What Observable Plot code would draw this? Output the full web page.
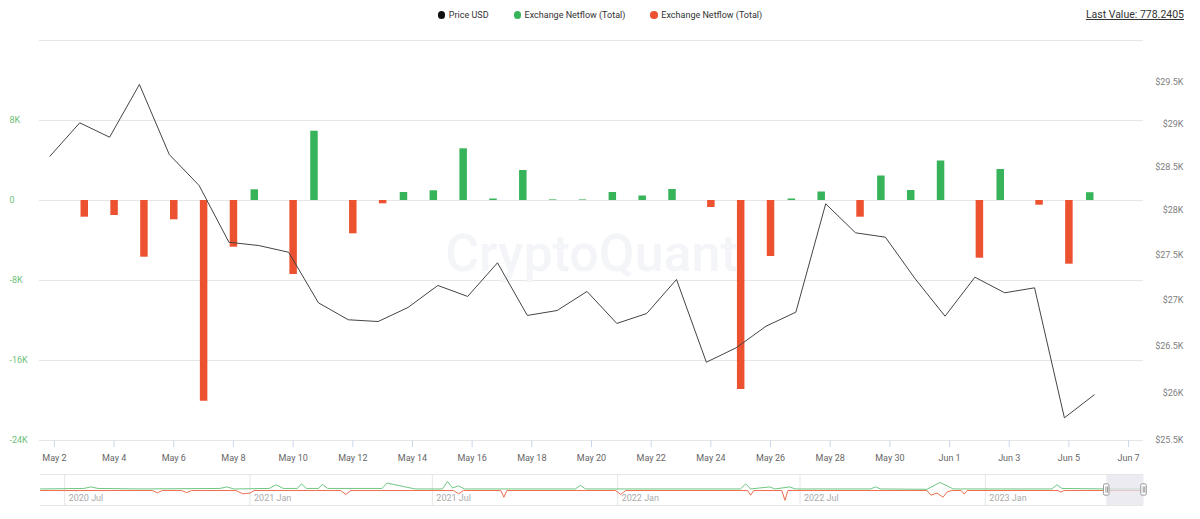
<!DOCTYPE html>
<html>
<head>
<meta charset="utf-8">
<script src="https://cdn.jsdelivr.net/npm/d3@7"></script>
<script src="https://cdn.jsdelivr.net/npm/@observablehq/plot@0.6"></script>
<style>
  body { margin: 0; background: #fff; font-family: Roboto, sans-serif; }
  #wrap { position: relative; width: 1200px; height: 519px; overflow: hidden; }
  #legend { position: absolute; top: 0; left: 0; width: 1200px; height: 30px; display: flex; justify-content: center; align-items: center; gap: 25px; font-size: 9px; color: #333; }
  .item { display: flex; align-items: center; gap: 3.5px; }
  .dot { width: 7.5px; height: 7.5px; border-radius: 50%; display: inline-block; }
  #last { position: absolute; top: 8px; right: 16px; font-size: 10.5px; color: #333; text-decoration: underline; }
  #main { position: absolute; top: 30px; left: 0; }
  #nav { position: absolute; top: 470px; left: 0; }
</style>
</head>
<body>
<div id="wrap">
  <div id="legend"></div>
  <div id="last"></div>
  <div id="main"></div>
  <div id="nav"></div>
</div>
<script>
// ---- Data ----
const seriesNames = ["Price USD", "Exchange Netflow (Total)", "Exchange Netflow (Total)"];
const seriesColors = ["#111111", "#37b35a", "#ec5230"];
const lastValueText = "Last Value: 778.2405";

const priceDates = ["2023-05-02","2023-05-03","2023-05-04","2023-05-05","2023-05-06","2023-05-07","2023-05-08","2023-05-09","2023-05-10","2023-05-11","2023-05-12","2023-05-13","2023-05-14","2023-05-15","2023-05-16","2023-05-17","2023-05-18","2023-05-19","2023-05-20","2023-05-21","2023-05-22","2023-05-23","2023-05-24","2023-05-25","2023-05-26","2023-05-27","2023-05-28","2023-05-29","2023-05-30","2023-05-31","2023-06-01","2023-06-02","2023-06-03","2023-06-04","2023-06-05","2023-06-06"];
const priceUSD = [28622,29013,28844,29469,28642,28284,27639,27602,27527,26967,26782,26763,26916,27158,27037,27409,26829,26883,27092,26742,26850,27224,26324,26479,26712,26865,28074,27745,27696,27231,26821,27249,27077,27132,25736,25978];

const netflowDates = ["2023-05-03","2023-05-04","2023-05-05","2023-05-06","2023-05-07","2023-05-08","2023-05-09","2023-05-10","2023-05-11","2023-05-12","2023-05-13","2023-05-14","2023-05-15","2023-05-16","2023-05-17","2023-05-18","2023-05-19","2023-05-20","2023-05-21","2023-05-22","2023-05-23","2023-05-24","2023-05-25","2023-05-26","2023-05-27","2023-05-28","2023-05-29","2023-05-30","2023-05-31","2023-06-01","2023-06-02","2023-06-03","2023-06-04","2023-06-05","2023-06-06"];
const netflowValues = [-1670,-1500,-5670,-1930,-20070,-4670,1070,-7400,6930,-3330,-330,800,970,5170,150,3000,60,60,800,450,1100,-700,-18900,-5600,150,850,-1670,2450,1000,3950,-5770,3100,-470,-6370,778.2405];

const xTickDates = ["2023-05-02","2023-05-04","2023-05-06","2023-05-08","2023-05-10","2023-05-12","2023-05-14","2023-05-16","2023-05-18","2023-05-20","2023-05-22","2023-05-24","2023-05-26","2023-05-28","2023-05-30","2023-06-01","2023-06-03","2023-06-05","2023-06-07"];
const gridTicks = [-24000,-16000,-8000,0,8000,16000];
const leftTicks = [-24000,-16000,-8000,0,8000];
const leftLabels = ["-24K","-16K","-8K","0","8K"];
const priceTicks = [25500,26000,26500,27000,27500,28000,28500,29000,29500];
const priceLabels = ["$25.5K","$26K","$26.5K","$27K","$27.5K","$28K","$28.5K","$29K","$29.5K"];
const watermark = "CryptoQuant";

// Navigator (overview of full history), values in thousands
const navTickDates = ["2020-07-01","2021-01-01","2021-07-01","2022-01-01","2022-07-01","2023-01-01"];
const navGreen = [["2020-06-07",1],["2020-07-20",1.5],["2020-07-27",3],["2020-08-03",1.5],["2020-09-15",1],["2020-12-02",1.5],["2020-12-09",3],["2020-12-16",1],["2021-01-20",1.5],["2021-01-27",5],["2021-02-03",1.5],["2021-02-17",1.5],["2021-02-21",6],["2021-02-26",1.5],["2021-03-10",1.5],["2021-03-14",5.5],["2021-03-19",1.5],["2021-05-12",1.5],["2021-05-17",6.7],["2021-06-09",2],["2021-06-14",1],["2021-07-11",1],["2021-07-16",8.3],["2021-07-21",2],["2021-07-27",4],["2021-08-02",1],["2021-11-20",1],["2021-11-25",4.5],["2021-11-30",1],["2022-05-03",1],["2022-05-08",6],["2022-05-13",1],["2022-06-01",3],["2022-06-06",1],["2022-06-21",3],["2022-06-26",1],["2022-09-09",1],["2022-09-14",3],["2022-09-19",1],["2022-11-04",0.7],["2022-11-17",7.3],["2022-11-24",4],["2022-11-30",1],["2023-03-08",1],["2023-03-13",5],["2023-03-18",1.5],["2023-05-01",1],["2023-06-07",1]];
const navRed = [["2020-06-07",-0.5],["2020-09-26",-0.5],["2020-10-01",-2.7],["2020-10-06",-0.5],["2020-10-25",-0.5],["2020-10-30",-2.5],["2020-11-04",-0.5],["2020-12-18",-0.5],["2020-12-25",-3.7],["2021-01-01",-3],["2021-01-05",-0.5],["2021-04-01",-0.5],["2021-04-06",-4.3],["2021-04-11",-0.5],["2021-07-22",-0.5],["2021-07-27",-3.7],["2021-08-01",-0.5],["2021-09-07",-0.5],["2021-09-10",-7],["2021-09-13",-0.5],["2021-12-30",-0.5],["2022-01-04",-4.3],["2022-01-09",-0.5],["2022-05-10",-0.5],["2022-05-13",-5],["2022-05-16",-0.5],["2022-06-13",-0.5],["2022-06-16",-10],["2022-06-19",-0.5],["2022-11-04",-0.5],["2022-11-08",-5],["2022-11-14",-3],["2022-11-20",-7],["2022-11-24",-2],["2022-11-28",-0.5],["2022-12-08",-0.5],["2022-12-11",-4],["2022-12-14",-0.5],["2023-03-14",-0.5],["2023-03-17",-2],["2023-03-20",-0.5],["2023-06-07",-0.5]];

// ---- Helpers ----
const parse = s => new Date(s + "T00:00:00Z");
const priceRows = priceDates.map((d, i) => ({date: parse(d), price: priceUSD[i]}));
const flowRows = netflowDates.map((d, i) => ({date: parse(d), value: netflowValues[i]}));
const xTicks = xTickDates.map(parse);
const toLeft = d3.scaleLog().domain([25500, 30000]).range([-24000, 16000]);
const xDomain = [new Date("2023-05-01T12:00:00Z"), new Date("2023-06-07T12:00:00Z")];
const GREEN = seriesColors[1], RED = seriesColors[2];

// ---- Legend ----
const legend = document.getElementById("legend");
seriesNames.forEach((n, i) => {
  const it = document.createElement("div"); it.className = "item";
  const dot = document.createElement("span"); dot.className = "dot"; dot.style.background = seriesColors[i];
  const t = document.createElement("span"); t.textContent = n;
  it.appendChild(dot); it.appendChild(t); legend.appendChild(it);
});
document.getElementById("last").textContent = lastValueText;

// ---- Main chart ----
const main = Plot.plot({
  width: 1200, height: 440,
  marginLeft: 39, marginRight: 57, marginTop: 10, marginBottom: 30,
  style: {fontFamily: "Roboto, sans-serif", fontSize: "9px", background: "transparent", overflow: "visible"},
  x: {type: "utc", domain: xDomain},
  y: {domain: [-24000, 16000], axis: null},
  marks: [
    Plot.ruleY(gridTicks, {stroke: "#e6e6e6", strokeWidth: 1}),
    Plot.text([watermark], {frameAnchor: "middle", dy: 14, fontSize: 52, fontWeight: 500, fill: "#f4f5f8"}),
    Plot.ruleX(flowRows.filter(d => d.value >= 0), {x: "date", y1: () => 0, y2: "value", stroke: GREEN, strokeWidth: 7.5, dx: -9}),
    Plot.ruleX(flowRows.filter(d => d.value < 0), {x: "date", y1: () => 0, y2: "value", stroke: RED, strokeWidth: 7.5}),
    Plot.line(priceRows, {x: "date", y: d => toLeft(d.price), stroke: "#444", strokeWidth: 1, dx: -4.5}),
    Plot.axisX(xTicks, {tickSize: 7, tickPadding: 7, tickFormat: d3.utcFormat("%b %-d"), stroke: "#ccd6eb", fill: "#666", fontSize: 9, label: null}),
    Plot.text(leftTicks, {y: d => d, frameAnchor: "left", textAnchor: "start", dx: -30, text: (d, i) => leftLabels[i], fill: "#6cbf78"}),
    Plot.text(priceTicks, {y: d => toLeft(d), frameAnchor: "right", textAnchor: "end", dx: 40, text: (d, i) => priceLabels[i], fill: "#808080"})
  ]
});
document.getElementById("main").appendChild(main);

// ---- Navigator ----
const navG = navGreen.map(([d, v]) => ({date: parse(d), v}));
const navR = navRed.map(([d, v]) => ({date: parse(d), v}));
const navTicks = navTickDates.map(parse);
const nav = Plot.plot({
  width: 1200, height: 49,
  marginLeft: 40, marginRight: 57, marginTop: 4, marginBottom: 14,
  style: {fontFamily: "Roboto, sans-serif", fontSize: "9px", background: "transparent", overflow: "visible"},
  x: {type: "utc", domain: [parse("2020-06-07"), parse("2023-06-07")], axis: null},
  y: {domain: [-15, 15], axis: null},
  marks: [
    Plot.ruleY([-15, 15], {stroke: "#e6e6e6"}),
    Plot.ruleX(navTicks, {stroke: "#e6e6e6"}),
    Plot.text(navTicks, {x: d => d, frameAnchor: "bottom", dy: -5, dx: 4, textAnchor: "start", text: d3.utcFormat("%Y %b"), fill: "#aaa", fontSize: 9}),
    Plot.line(navG, {x: "date", y: "v", stroke: "#6fc683", strokeWidth: 1}),
    Plot.line(navR, {x: "date", y: "v", stroke: "#f06e4e", strokeWidth: 1}),
    Plot.rect([xDomain], {x1: d => d[0], x2: d => d[1], y1: () => -15, y2: () => 15, fill: "#e4e4ec", fillOpacity: 0.75}),
    Plot.rect(xDomain, {x1: d => d, x2: d => d, y1: () => -5.5, y2: () => 5.5, insetLeft: -2.75, insetRight: -2.75, fill: "#fff", stroke: "#999", rx: 1.5}),
    Plot.ruleX(xDomain, {x: d => d, y1: () => -3, y2: () => 3, stroke: "#999", dx: -0.8}),
    Plot.ruleX(xDomain, {x: d => d, y1: () => -3, y2: () => 3, stroke: "#999", dx: 0.8})
  ]
});
document.getElementById("nav").appendChild(nav);
</script>
</body>
</html>
